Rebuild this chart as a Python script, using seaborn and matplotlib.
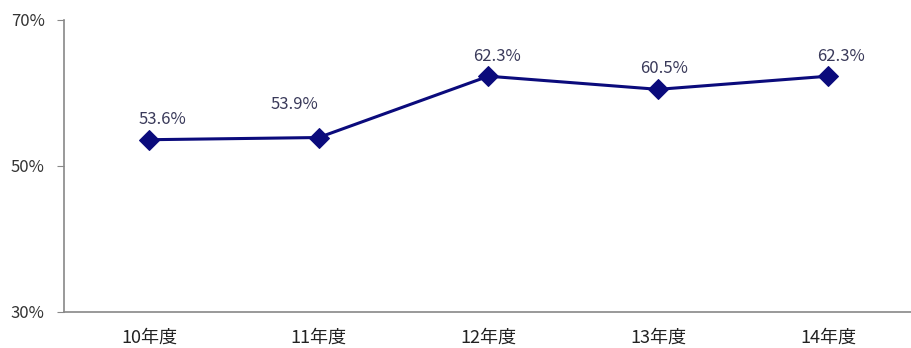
import matplotlib.pyplot as plt
import seaborn as sns
import pandas as pd

years = ['10年度', '11年度', '12年度', '13年度', '14年度']
rates = [53.6, 53.9, 62.3, 60.5, 62.3]
yticks = [30, 50, 70]

# label offsets in pixels (dx, dy) as placed in the original
label_offsets = [(14, 12), (-24, 25), (9, 11), (6, 12), (13, 11)]

sns.set_style('white')
plt.rcParams['font.family'] = ['Noto Sans CJK JP', 'DejaVu Sans']

df = pd.DataFrame({'year': years, 'rate': rates})

fig = plt.figure(figsize=(9.11, 3.48), dpi=100)
ax = fig.add_axes([64 / 911, 1 - 312 / 348, 1 - 64 / 911 + 0.002, (312 - 20) / 348])

sns.lineplot(data=df, x='year', y='rate', ax=ax, color='#0b0b7c', linewidth=2.2,
             marker='D', markersize=10, markeredgecolor='#0b0b7c', sort=False)

# value labels
for i, v in enumerate(rates):
    dx, dy = label_offsets[i]
    ax.annotate(f'{v:.1f}%', (i, v), xytext=(dx * 0.72, dy * 0.72), textcoords='offset points',
                ha='center', va='bottom', fontsize=12, color='#3a3a5a')

ax.set_xlim(-0.5, len(years) - 0.5)
ax.set_ylim(30, 70)
ax.set_yticks(yticks)
ax.set_yticklabels([f'{t}%' for t in yticks], fontsize=12, color='#333333')
ax.set_xticks(range(len(years)))
ax.set_xticklabels(years, fontsize=13, color='#222222')
ax.set_xlabel('')
ax.set_ylabel('')

# category separators on the x axis
ax.set_xticks([i + 0.5 for i in range(len(years) - 1)], minor=True)
ax.tick_params(axis='x', which='major', length=0, pad=12)
ax.tick_params(axis='x', which='minor', direction='in', length=5, color='#888888')
ax.tick_params(axis='y', which='major', direction='out', length=5, color='#888888', pad=9)
ax.yaxis.set_tick_params(left=True)

for side in ['top', 'right']:
    ax.spines[side].set_visible(False)
for side in ['left', 'bottom']:
    ax.spines[side].set_color('#888888')
    ax.spines[side].set_linewidth(1.2)

fig.savefig('out.png', dpi=100)
